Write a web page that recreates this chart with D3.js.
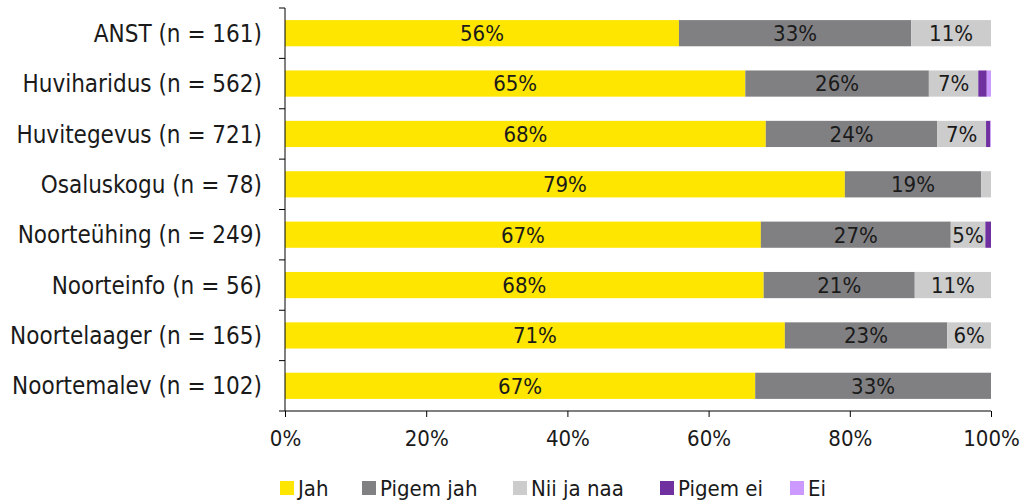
<!DOCTYPE html>
<html>
<head>
<meta charset="utf-8">
<script src="https://cdn.jsdelivr.net/npm/d3@7"></script>
<style>
  body { margin: 0; background: #fff; }
  svg text { font-family: "DejaVu Sans Condensed", "DejaVu Sans", sans-serif; font-stretch: condensed; fill: #1a1a1a; }
</style>
</head>
<body>
<svg></svg>
<script>
const categories = ["ANST (n = 161)", "Huviharidus (n = 562)", "Huvitegevus (n = 721)", "Osaluskogu (n = 78)",
    "Noorteühing (n = 249)", "Noorteinfo (n = 56)", "Noortelaager (n = 165)", "Noortemalev (n = 102)"];
const seriesNames = ["Jah", "Pigem jah", "Nii ja naa", "Pigem ei", "Ei"];
const jah      = [55.8, 65.2, 68.1, 79.3, 67.4, 67.8, 70.8, 66.6];
const pigemJah = [32.9, 26.0, 24.3, 19.3, 26.9, 21.4, 23.0, 33.4];
const niiJaNaa = [11.3, 7.0, 6.9, 1.4, 4.9, 10.8, 6.2, 0];
const pigemEi  = [0, 1.2, 0.6, 0, 0.8, 0, 0, 0];
const ei       = [0, 0.6, 0.1, 0, 0, 0, 0, 0];
const xTicks = [0, 20, 40, 60, 80, 100];
const colors = ["#ffe600", "#808083", "#cccccc", "#7030a0", "#cc99ff"];

let svgWidth = 1022, svgHeight = 502;
let svg = d3.select('svg').attr('width', svgWidth).attr('height', svgHeight);

let rows = categories.map((c, i) => ({
    cat: c, "Jah": jah[i], "Pigem jah": pigemJah[i], "Nii ja naa": niiJaNaa[i],
    "Pigem ei": pigemEi[i], "Ei": ei[i]
}));
let stack = d3.stack().keys(seriesNames)(rows);

let x = d3.scaleLinear().domain([0, 100]).range([285, 991]);
let y = d3.scaleBand().domain(categories).range([8, 411]).paddingInner(0.48).paddingOuter(0.24);

let layers = svg.append('g').selectAll('g')
    .data(stack).enter().append('g')
    .attr('fill', (d, i) => colors[i]);

layers.selectAll('rect')
    .data(d => d).enter().append('rect')
    .attr('x', d => x(d[0]))
    .attr('y', d => y(d.data.cat))
    .attr('width', d => x(d[1]) - x(d[0]))
    .attr('height', y.bandwidth());

// segment labels (only the larger parts)
layers.selectAll('text')
    .data(d => d.filter(v => v[1] - v[0] >= 4.5)).enter().append('text')
    .attr('x', d => (x(d[0]) + x(d[1])) / 2)
    .attr('y', d => y(d.data.cat) + y.bandwidth() / 2)
    .attr('dy', '0.36em')
    .attr('text-anchor', 'middle')
    .attr('font-size', 22)
    .text(d => Math.round(d[1] - d[0]) + '%');

// category axis
let yAxis = svg.append('g').attr('transform', 'translate(285,0)');
yAxis.append('line').attr('y1', 8).attr('y2', 411).attr('stroke', '#000');
yAxis.selectAll('line.tk')
    .data(d3.range(categories.length + 1)).enter().append('line')
    .attr('class', 'tk')
    .attr('x1', -6).attr('x2', 0)
    .attr('y1', i => 8 + i * (403 / categories.length))
    .attr('y2', i => 8 + i * (403 / categories.length))
    .attr('stroke', '#000');
yAxis.selectAll('text')
    .data(categories).enter().append('text')
    .attr('x', -23)
    .attr('y', d => y(d) + y.bandwidth() / 2)
    .attr('dy', '0.36em')
    .attr('text-anchor', 'end')
    .attr('font-size', 24)
    .text(d => d);

// value axis
let xAxis = svg.append('g').attr('transform', 'translate(0,411)')
    .call(d3.axisBottom(x).tickValues(xTicks).tickSize(6).tickPadding(13).tickFormat(d => d + '%'));
xAxis.select('.domain').attr('d', 'M285,0H991');
xAxis.selectAll('text').attr('font-size', 22).attr('font-family', null).attr('fill', '#1a1a1a');

// legend
let legendX = [280, 362, 513, 660, 790];
let legend = svg.append('g').selectAll('g')
    .data(seriesNames).enter().append('g')
    .attr('transform', (d, i) => 'translate(' + legendX[i] + ',481)');
legend.append('rect').attr('width', 14).attr('height', 14).attr('fill', (d, i) => colors[i]);
legend.append('text').attr('x', 18).attr('y', 7).attr('dy', '0.36em')
    .attr('font-size', 22).text(d => d);
</script>
</body>
</html>
